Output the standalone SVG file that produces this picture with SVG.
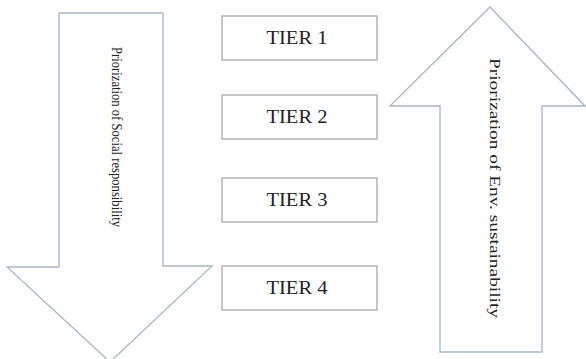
<svg xmlns="http://www.w3.org/2000/svg" width="586" height="359" viewBox="0 0 586 359">
<style>
.arrow{fill:#ffffff;stroke:#aab4c6;stroke-width:1.3}
.box{fill:#ffffff;stroke:#a8a8a8;stroke-width:1.3}
.t{font-family:"Liberation Serif","Times New Roman",serif;fill:#222222}
.tier{font-size:18px;text-anchor:middle}
.vt{text-anchor:middle;dominant-baseline:central}
</style>
<rect width="586" height="359" fill="#ffffff"/>
<g id="arrow-social">
<path class="arrow" d="M59,13 L163,13 L163,266 L212,266 L110,362 L7,267 L59,267 Z"/>
<text class="t vt" x="117" y="137" font-size="15" textLength="180" lengthAdjust="spacingAndGlyphs" transform="rotate(90 117 137)">Priorization of Social responsibility</text>
</g>
<g id="tier1">
<rect class="box" x="222" y="16" width="155" height="44"/>
<text class="t tier" x="297" y="44" textLength="61" lengthAdjust="spacingAndGlyphs">TIER 1</text>
</g>
<g id="tier2">
<rect class="box" x="222" y="95" width="155" height="44"/>
<text class="t tier" x="297" y="123" textLength="61" lengthAdjust="spacingAndGlyphs">TIER 2</text>
</g>
<g id="tier3">
<rect class="box" x="222" y="178" width="155" height="44"/>
<text class="t tier" x="297" y="206" textLength="61" lengthAdjust="spacingAndGlyphs">TIER 3</text>
</g>
<g id="tier4">
<rect class="box" x="222" y="266" width="155" height="44"/>
<text class="t tier" x="297" y="294" textLength="61" lengthAdjust="spacingAndGlyphs">TIER 4</text>
</g>
<g id="arrow-env">
<path class="arrow" d="M490,7 L585,106 L542,106 L542,352 L440,352 L440,106 L390,106 Z"/>
<text class="t vt" x="495" y="188" font-size="15.5" textLength="260" lengthAdjust="spacingAndGlyphs" transform="rotate(90 495 188)">Priorization of Env. sustainability</text>
</g>
<g id="connectors"></g>
</svg>
